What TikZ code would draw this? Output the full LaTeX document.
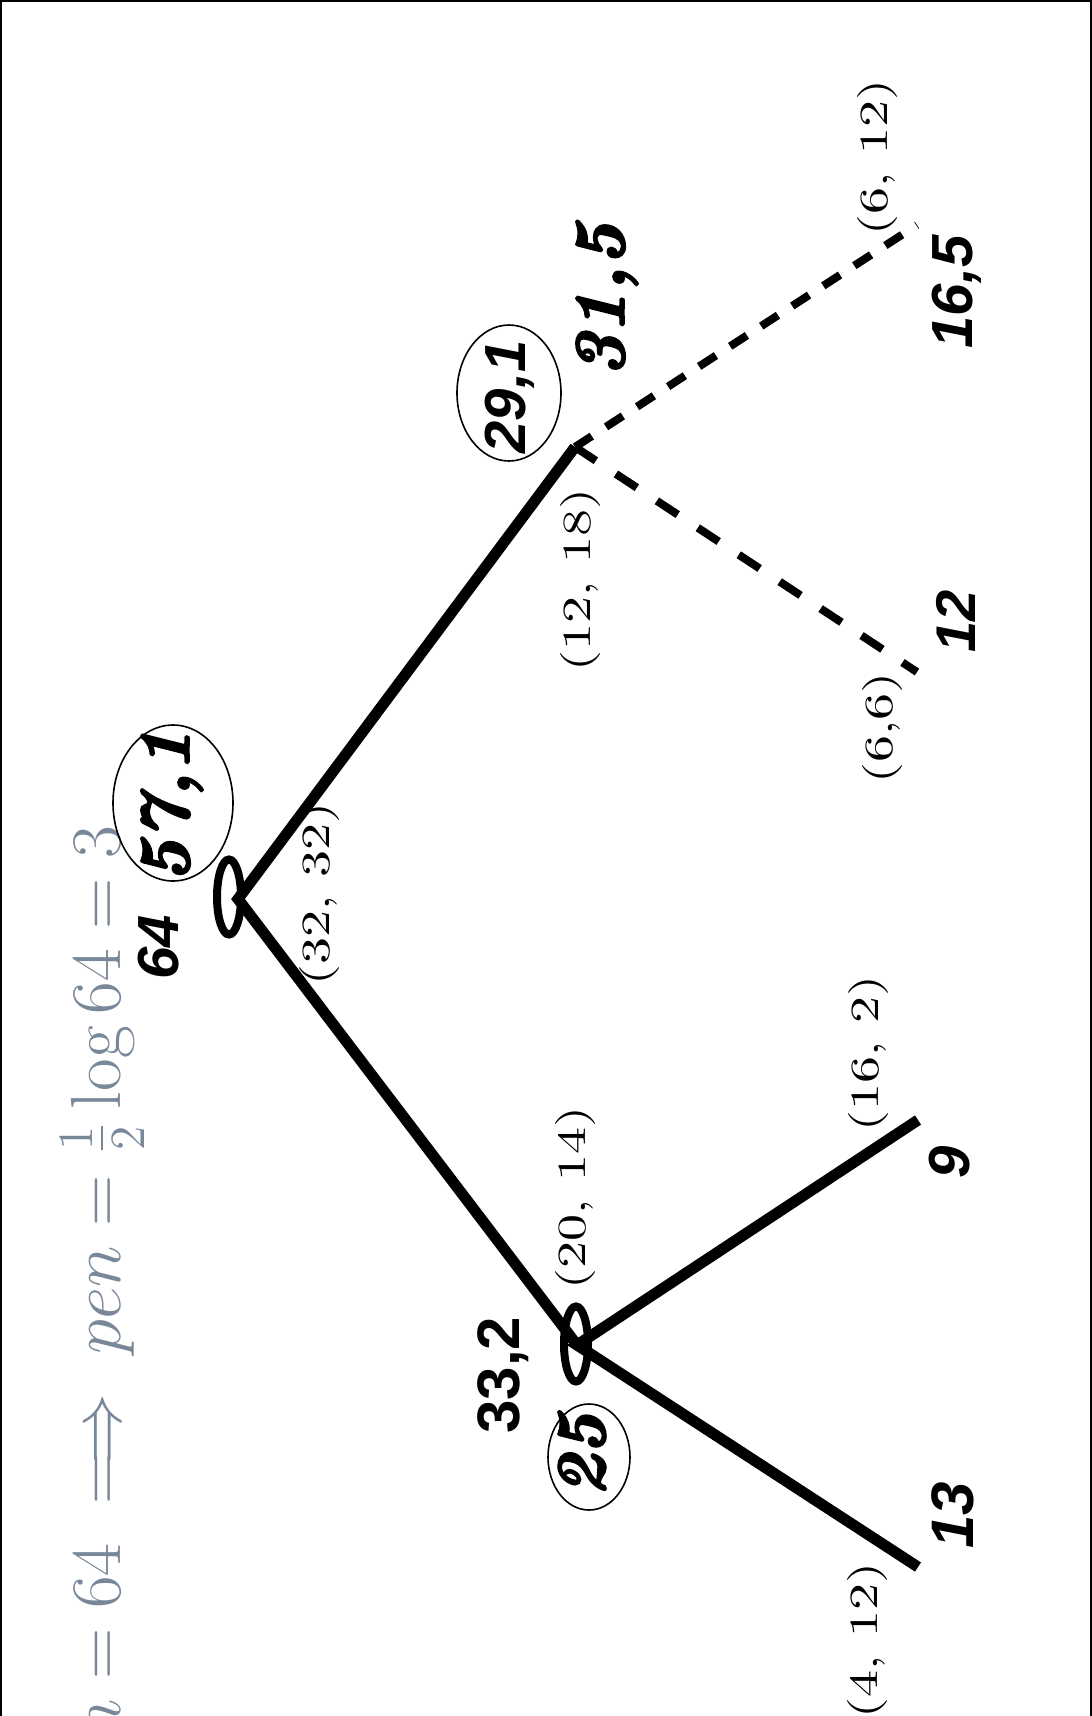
\documentclass[tikz,border=0pt]{standalone}
\usepackage{fontspec}
\usepackage{graphicx}
\usetikzlibrary{shapes.geometric}
\newfontfamily\lsans{Liberation Sans}
\newfontface\lmbi{lmroman10-bolditalic.otf}[FakeBold=3]
\definecolor{slate}{RGB}{120,136,153}
\tikzset{
  edgeline/.style={line width=11pt, line cap=butt},
  dashline/.style={line width=8pt},
  vring/.style={ellipse, draw, line width=8pt, inner sep=0pt, minimum width=24pt, minimum height=75pt},
  ovalring/.style={ellipse, draw, line width=1.6pt, inner sep=0pt},
  sbi/.style={rotate=90, inner sep=0pt, font=\lsans\bfseries\itshape\fontsize{#1}{#1}\selectfont},
  sbu/.style={rotate=90, inner sep=0pt, font=\lsans\bfseries\fontsize{#1}{#1}\selectfont},
  rbi/.style={rotate=90, inner sep=0pt, font=\lmbi\fontsize{#1}{#1}\selectfont},
  pairlbl/.style={rotate=90, inner sep=0pt, font=\fontsize{10}{12}\selectfont},
}
\newcommand{\pairtext}[1]{\scalebox{5.4}[4]{#1}}
\begin{document}
\begin{tikzpicture}[x=1pt, y=-1pt]
\useasboundingbox (0,0) rectangle (1092,1716);
\begin{scope}
\clip (0,0) rectangle (1092,1716);
% frame
\draw[line width=2pt] (1,1716) -- (1,1) -- (1091,1) -- (1091,1716);
% formula
\node[rotate=90, anchor=base east, text=slate, inner sep=0pt, font=\fontsize{17.28}{20}\selectfont] (formula) at (120,826) {\scalebox{4.11}{$n=64 \;\Longrightarrow\; pen=\frac{1}{2}\log 64=3$}};
% vertices
\coordinate (r) at (238,899);
\coordinate (a) at (575,447);
\coordinate (b) at (577,1345);
\coordinate (l1) at (917,225);
\coordinate (l2) at (917,672);
\coordinate (l3) at (918,1120);
\coordinate (l4) at (918,1567);
% edges
\draw[edgeline] (a) -- (r) -- (b);
\draw[edgeline] (l3) -- (b) -- (l4);
\draw[dashline, dash pattern=on 20pt off 17pt] (a) -- (l1);
\draw[dashline, dash pattern=on 25pt off 24pt] (a) -- (l2);
% vertex rings
\node[vring] (vr) at (229,897) {};
\node[vring] (vb) at (576,1344) {};
% ovals
\node[ovalring, minimum width=120pt, minimum height=156pt] (o571) at (173,803) {};
\node[ovalring, minimum width=104pt, minimum height=136pt] (o291) at (509,393) {};
\node[ovalring, minimum width=82pt, minimum height=106pt] (o25) at (589,1457) {};
% bold values
\node[sbi=58] (t64) at (159,947) {64};
\node[rbi=72] (t571) at (172,806) {57,1};
\node[sbi=58] (t291) at (510,397) {29,1};
\node[rbi=72] (t315) at (607,300) {31,5};
\node[sbi=58] (t165) at (957,292) {16,5};
\node[sbi=56] (t12) at (956,621) {12};
\node[sbi=58] (t9) at (950,1162) {9};
\node[sbi=60] (t13) at (953,1515) {13};
\node[sbu=60] (t332) at (503,1375) {33,2};
\node[rbi=70] (t25) at (582,1455) {25};
% pair labels
\node[pairlbl] (p1) at (319,894) {\pairtext{(32, 32)}};
\node[pairlbl] (p2) at (580,580) {\pairtext{(12, 18)}};
\node[pairlbl] (p3) at (877,157) {\pairtext{(6, 12)}};
\node[pairlbl] (p4) at (882,728) {\pairtext{(6,6)}};
\node[pairlbl] (p5) at (868,1053) {\pairtext{(16, 2)}};
\node[pairlbl] (p6) at (575,1198) {\pairtext{(20, 14)}};
\node[pairlbl] (p7) at (867,1640) {\pairtext{(4, 12)}};
\end{scope}
\end{tikzpicture}
\end{document}
